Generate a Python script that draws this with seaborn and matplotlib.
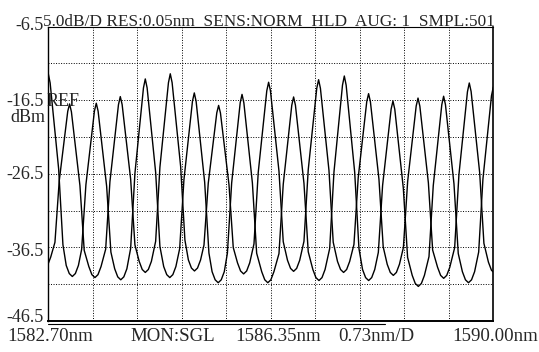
import numpy as np
import pandas as pd
import matplotlib
matplotlib.use("Agg")
import matplotlib.pyplot as plt
from matplotlib.lines import Line2D
import seaborn as sns

# ---------------- data ----------------
# Trace A (peaks at both edges)
TRACE_A_PEAK_NM = [1582.700, 1583.487, 1584.291, 1585.095, 1585.878,
                   1586.724, 1587.556, 1588.354, 1589.185, 1590.000]
TRACE_A_PEAK_DBM = [-12.9, -16.9, -13.6, -15.5, -15.7,
                    -16.05, -13.2, -16.6, -15.95, -14.7]
TRACE_A_TROUGH_NM = [1582.290, 1583.094, 1583.889, 1584.693, 1585.487, 1586.301,
                     1587.140, 1587.955, 1588.770, 1589.593, 1590.410]
TRACE_A_TROUGH_DBM = [-40.3, -40.45, -40.9, -40.6, -41.3, -41.3,
                      -41.0, -41.0, -41.8, -41.3, -40.5]

# Trace B (interleaved)
TRACE_B_PEAK_NM = [1583.049, 1583.881, 1584.701, 1585.494, 1586.314,
                   1587.134, 1587.954, 1588.765, 1589.606]
TRACE_B_PEAK_DBM = [-17.0, -16.0, -12.9, -17.2, -14.05,
                    -13.7, -15.6, -16.2, -14.15]
TRACE_B_TROUGH_NM = [1582.640, 1583.465, 1584.291, 1585.098, 1585.904,
                     1586.724, 1587.544, 1588.360, 1589.186, 1590.020]
TRACE_B_TROUGH_DBM = [-39.3, -40.6, -39.9, -39.7, -40.1,
                      -39.75, -39.9, -40.3, -40.7, -40.0]

FLANK_OFFSET_NM = [0.03, 0.07, 0.11, 0.17, 0.205, 0.24]
FLANK_DROP_DB = [1.2, 4.5, 7.7, 12.6, 17.6, 22.6]
REF_DEPTH_DB = 26.8
TROUGH_OFFSET_NM = [0.05, 0.10]
TROUGH_RISE_DB = [0.4, 1.5]

# Axis / annotation texts
X_MIN, X_MAX = 1582.70, 1590.00
Y_MIN, Y_MAX, Y_DIV = -46.5, -6.5, 5.0
HEADER = "5.0dB/D RES:0.05nm  SENS:NORM  HLD  AUG: 1  SMPL:501"
Y_LABELS = ["-6.5", "-16.5", "-26.5", "-36.5", "-46.5"]
BOTTOM_TEXTS = ["1582.70nm", "MON:SGL", "1586.35nm", "0.73nm/D", "1590.00nm"]


def build_trace(name, pk_nm, pk_db, tr_nm, tr_db):
    xs, ys = [], []
    tr_nm = np.asarray(tr_nm)
    for p, pd_ in zip(pk_nm, pk_db):
        xs.append(p); ys.append(pd_)
        li = np.searchsorted(tr_nm, p) - 1
        ri = li + 1
        for side, ti in ((-1, li), (1, ri)):
            depth = pd_ - tr_db[ti]
            for off, drop in zip(FLANK_OFFSET_NM, FLANK_DROP_DB):
                xs.append(p + side * off)
                ys.append(pd_ - drop * depth / REF_DEPTH_DB)
    for t, td in zip(tr_nm, tr_db):
        xs.append(t); ys.append(td)
        for off, rise in zip(TROUGH_OFFSET_NM, TROUGH_RISE_DB):
            xs.append(t - off); ys.append(td + rise)
            xs.append(t + off); ys.append(td + rise)
    df = pd.DataFrame({"wavelength": xs, "power": ys})
    df = df.sort_values("wavelength")
    df["trace"] = name
    return df


data = pd.concat([
    build_trace("A", TRACE_A_PEAK_NM, TRACE_A_PEAK_DBM, TRACE_A_TROUGH_NM, TRACE_A_TROUGH_DBM),
    build_trace("B", TRACE_B_PEAK_NM, TRACE_B_PEAK_DBM, TRACE_B_TROUGH_NM, TRACE_B_TROUGH_DBM),
], ignore_index=True)

# ---------------- figure ----------------
sns.set_style("white")
plt.rcParams["font.family"] = ["Liberation Serif", "DejaVu Serif"]

W, H = 539, 352
fig = plt.figure(figsize=(W / 100, H / 100), dpi=100)
fig.patch.set_facecolor("white")

L, R, T, B = 48.3, 493.3, 26.7, 321.0
ax = fig.add_axes([L / W, 1 - B / H, (R - L) / W, (B - T) / H])


def px(x, y):
    return x / W, 1 - y / H


sns.lineplot(data=data, x="wavelength", y="power", hue="trace",
             palette={"A": "black", "B": "black"}, estimator=None, sort=False,
             legend=False, linewidth=1.0, ax=ax)

ax.set_xlim(X_MIN, X_MAX)
ax.set_ylim(Y_MIN, Y_MAX)
ax.set_xticks(np.linspace(X_MIN, X_MAX, 11))
ax.set_yticks(np.arange(Y_MIN, Y_MAX + 0.01, Y_DIV))
ax.tick_params(length=0, labelbottom=False, labelleft=False)
ax.set_xlabel("")
ax.set_ylabel("")
ax.grid(True, color="black", linestyle=(0, (1, 1.6)), linewidth=0.7)
ax.set_axisbelow(True)

for s, lw in (("left", 1.0), ("top", 0.8), ("right", 1.2), ("bottom", 1.4)):
    ax.spines[s].set_visible(True)
    ax.spines[s].set_color("black")
    ax.spines[s].set_linewidth(lw)

# second line under the bottom border
fig.add_artist(Line2D([L / W, 385 / W], [1 - 323.5 / H, 1 - 323.5 / H],
                      color="black", linewidth=0.8))

# header
fig.text(*px(43, 25.5), HEADER, fontsize=12.4, ha="left", va="baseline")

# y labels
y_label_pos = [30, 106, 179, 256, 322]
for lab, yb in zip(Y_LABELS, y_label_pos):
    fig.text(*px(44, yb), lab, fontsize=13, ha="right", va="baseline")
fig.text(*px(47, 106), "REF", fontsize=13, ha="left", va="baseline")
fig.text(*px(45, 122), "dBm", fontsize=13, ha="right", va="baseline")

# bottom texts
bottom_x = [7, 130, 235, 338, 452]
for lab, xb in zip(BOTTOM_TEXTS, bottom_x):
    fig.text(*px(xb, 341), lab, fontsize=13.6, ha="left", va="baseline")

fig.savefig("out.png", dpi=100, facecolor="white")
